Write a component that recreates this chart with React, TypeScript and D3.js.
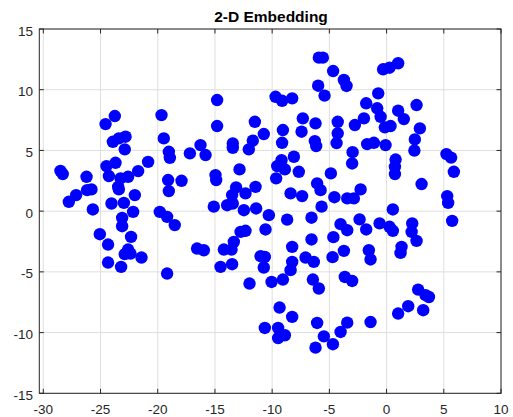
import React from 'react'
import * as d3 from 'd3'

// 2-D embedding coordinates
const embedding: [number, number][] = [
  [-23.75, 7.83], [-24.56, 7.17], [-19.67, 7.91], [-19.47, 5.99], [-23.92, 5.71],
  [-23.40, 5.99], [-22.81, 6.13], [-22.88, 5.09], [-19.03, 4.89], [-18.94, 4.39],
  [-17.19, 4.76], [-28.50, 3.32], [-28.30, 3.05], [-24.48, 3.71], [-23.69, 3.98],
  [-20.84, 4.06], [-21.71, 3.30], [-24.27, 2.89], [-23.25, 2.70], [-22.59, 2.83],
  [-26.22, 2.83], [-23.46, 2.00], [-23.40, 1.79], [-19.09, 2.56], [-19.03, 1.65],
  [-17.92, 2.50], [-25.79, 1.79], [-26.17, 1.73], [-27.13, 1.32], [-27.77, 0.77],
  [-22.00, 1.32], [-24.04, 0.63], [-22.96, 0.68], [-25.67, 0.14], [-22.15, -0.06],
  [-23.11, -0.55], [-19.82, -0.06], [-19.18, -0.47], [-23.11, -1.24], [-18.51, -1.15],
  [-25.06, -1.90], [-22.33, -2.12], [-24.34, -2.75], [-22.59, -3.16], [-22.88, -3.54],
  [-22.38, -3.49], [-21.42, -3.82], [-24.34, -4.23], [-23.20, -4.59], [-19.18, -5.14],
  [-5.98, 10.33], [-5.42, 9.51], [-9.70, 9.42], [-9.13, 9.09], [-8.25, 9.29],
  [-14.81, 9.15], [-11.51, 7.36], [-14.81, 7.01], [-7.32, 7.64], [-6.21, 7.23],
  [-4.27, 7.36], [-10.73, 6.35], [-9.06, 6.68], [-7.43, 6.54], [-4.27, 6.41],
  [-13.44, 5.58], [-13.44, 5.22], [-11.69, 5.80], [-12.04, 5.09], [-9.13, 5.63],
  [-6.27, 5.77], [-6.15, 5.36], [-4.37, 5.61], [-16.26, 5.44], [-15.82, 4.62],
  [-8.10, 4.48], [-9.18, 4.20], [-9.56, 3.71], [-8.89, 3.44], [-7.67, 3.24],
  [-12.85, 3.44], [-4.87, 3.11], [-14.95, 2.97], [-14.89, 2.56], [-9.65, 2.70],
  [-13.15, 1.95], [-11.45, 2.00], [-12.33, 1.46], [-13.50, 1.32], [-6.07, 2.28],
  [-5.77, 1.73], [-8.39, 1.46], [-7.38, 1.24], [-4.56, 1.15], [-15.10, 0.37],
  [-13.93, 0.49], [-13.44, 0.62], [-12.47, 0.08], [-11.40, 0.22], [-10.29, -0.33],
  [-8.69, -0.70], [-6.56, -0.54], [-5.68, 0.37], [-12.76, -1.71], [-12.33, -1.62],
  [-10.58, -1.51], [-13.35, -2.53], [-14.22, -3.16], [-13.55, -3.16], [-16.56, -3.08],
  [-15.97, -3.22], [-8.25, -2.94], [-6.56, -2.33], [-4.65, -2.14], [-11.01, -3.71],
  [-10.64, -3.77], [-10.73, -4.64], [-7.08, -3.82], [-6.36, -4.18], [-8.25, -4.18],
  [-8.39, -4.86], [-4.72, -3.79], [-14.51, -4.59], [-13.50, -4.37], [-11.98, -5.96],
  [-10.05, -5.83], [-9.06, -5.63], [-6.44, -5.63], [-5.92, -6.37], [-9.35, -7.94],
  [-8.25, -8.71], [-10.64, -9.62], [-9.48, -9.62], [-8.89, -10.22], [-9.48, -10.45],
  [-6.07, -9.21], [-5.48, -10.31], [-4.69, -10.96], [-6.21, -11.24],
  [-5.92, 12.64], [-5.57, 12.64], [-4.67, 11.54], [-3.73, 10.80], [-3.50, 10.31],
  [-0.30, 11.68], [0.26, 11.81], [1.01, 12.18], [-0.73, 9.70], [-1.78, 8.88],
  [-0.82, 8.47], [-0.52, 7.77], [1.01, 8.27], [1.51, 7.58], [2.62, 8.74],
  [-2.77, 7.09], [-1.98, 7.64], [-0.15, 6.90], [0.35, 7.01], [2.91, 6.82],
  [2.47, 5.91], [2.43, 4.99], [-2.97, 4.86], [-1.70, 5.52], [-1.11, 5.63],
  [-0.09, 5.44], [0.79, 4.25], [5.23, 4.70], [5.64, 4.41], [-3.01, 3.93],
  [0.73, 3.65], [0.73, 3.05], [5.88, 3.24], [3.06, 2.23], [-2.27, 1.79],
  [-3.44, 1.05], [-2.86, 1.05], [5.30, 1.24], [5.38, 0.68], [0.55, 0.14],
  [5.73, -0.80], [-4.02, -1.07], [-3.44, -1.57], [-2.36, -0.68], [-1.78, -1.51],
  [-0.61, -1.01], [0.26, -1.29], [0.55, -1.62], [2.24, -1.01], [2.19, -1.71],
  [2.62, -2.45], [-3.73, -3.27], [-1.55, -3.22], [-1.40, -3.98], [1.31, -2.94],
  [1.22, -3.44], [-3.65, -5.42], [-3.01, -5.75], [2.76, -6.46], [3.41, -6.92],
  [3.70, -7.07], [1.89, -7.83], [1.01, -8.43], [3.20, -8.16], [-1.40, -9.13],
  [-3.44, -9.18], [-4.02, -9.95],
]

const xTicks = [-30, -25, -20, -15, -10, -5, 0, 5, 10]
const yTicks = [-15, -10, -5, 0, 5, 10, 15]
const title = '2-D Embedding'

const W = 513
const H = 417
const left = 39.3, right = 501, top = 29, bottom = 393.3
const font = '"Liberation Sans", Arial, Helvetica, sans-serif'
const axisColor = '#262626'
const tickLen = 4.5

export default function App() {
  const x = d3.scaleLinear().domain([-30.35, 10]).range([left, right])
  const y = d3.scaleLinear().domain([-15, 15]).range([bottom, top])

  return (
    <svg width={W} height={H} style={{ position: 'absolute', left: 0, top: 0, background: '#fff' }}>
      <rect x={0} y={0} width={W} height={H} fill="#fff" />
      {/* grid */}
      <g stroke="#dfdfdf" strokeWidth={1}>
        {xTicks.map(t => (
          <line key={'gx' + t} x1={x(t)} x2={x(t)} y1={top} y2={bottom} />
        ))}
        {yTicks.map(t => (
          <line key={'gy' + t} x1={left} x2={right} y1={y(t)} y2={y(t)} />
        ))}
      </g>
      {/* points */}
      <g fill="#0000ff">
        {embedding.map((d, i) => (
          <circle key={i} cx={x(d[0])} cy={y(d[1])} r={6.2} />
        ))}
      </g>
      {/* box and ticks */}
      <rect x={left} y={top} width={right - left} height={bottom - top} fill="none" stroke={axisColor} strokeWidth={1} />
      <g stroke={axisColor} strokeWidth={1}>
        {xTicks.map(t => (
          <g key={'tx' + t}>
            <line x1={x(t)} x2={x(t)} y1={bottom} y2={bottom - tickLen} />
            <line x1={x(t)} x2={x(t)} y1={top} y2={top + tickLen} />
          </g>
        ))}
        {yTicks.map(t => (
          <g key={'ty' + t}>
            <line x1={left} x2={left + tickLen} y1={y(t)} y2={y(t)} />
            <line x1={right} x2={right - tickLen} y1={y(t)} y2={y(t)} />
          </g>
        ))}
      </g>
      <g fill={axisColor} fontFamily={font} fontSize={13.5}>
        {xTicks.map(t => (
          <text key={'lx' + t} x={x(t)} y={413.5} textAnchor="middle">{t}</text>
        ))}
        {yTicks.map(t => (
          <text key={'ly' + t} x={33} y={y(t) + 6.5} textAnchor="end">{t}</text>
        ))}
      </g>
      <text x={271} y={21.5} textAnchor="middle" fontFamily={font} fontSize={15.5} fontWeight="bold" fill="#000">
        {title}
      </text>
    </svg>
  )
}
